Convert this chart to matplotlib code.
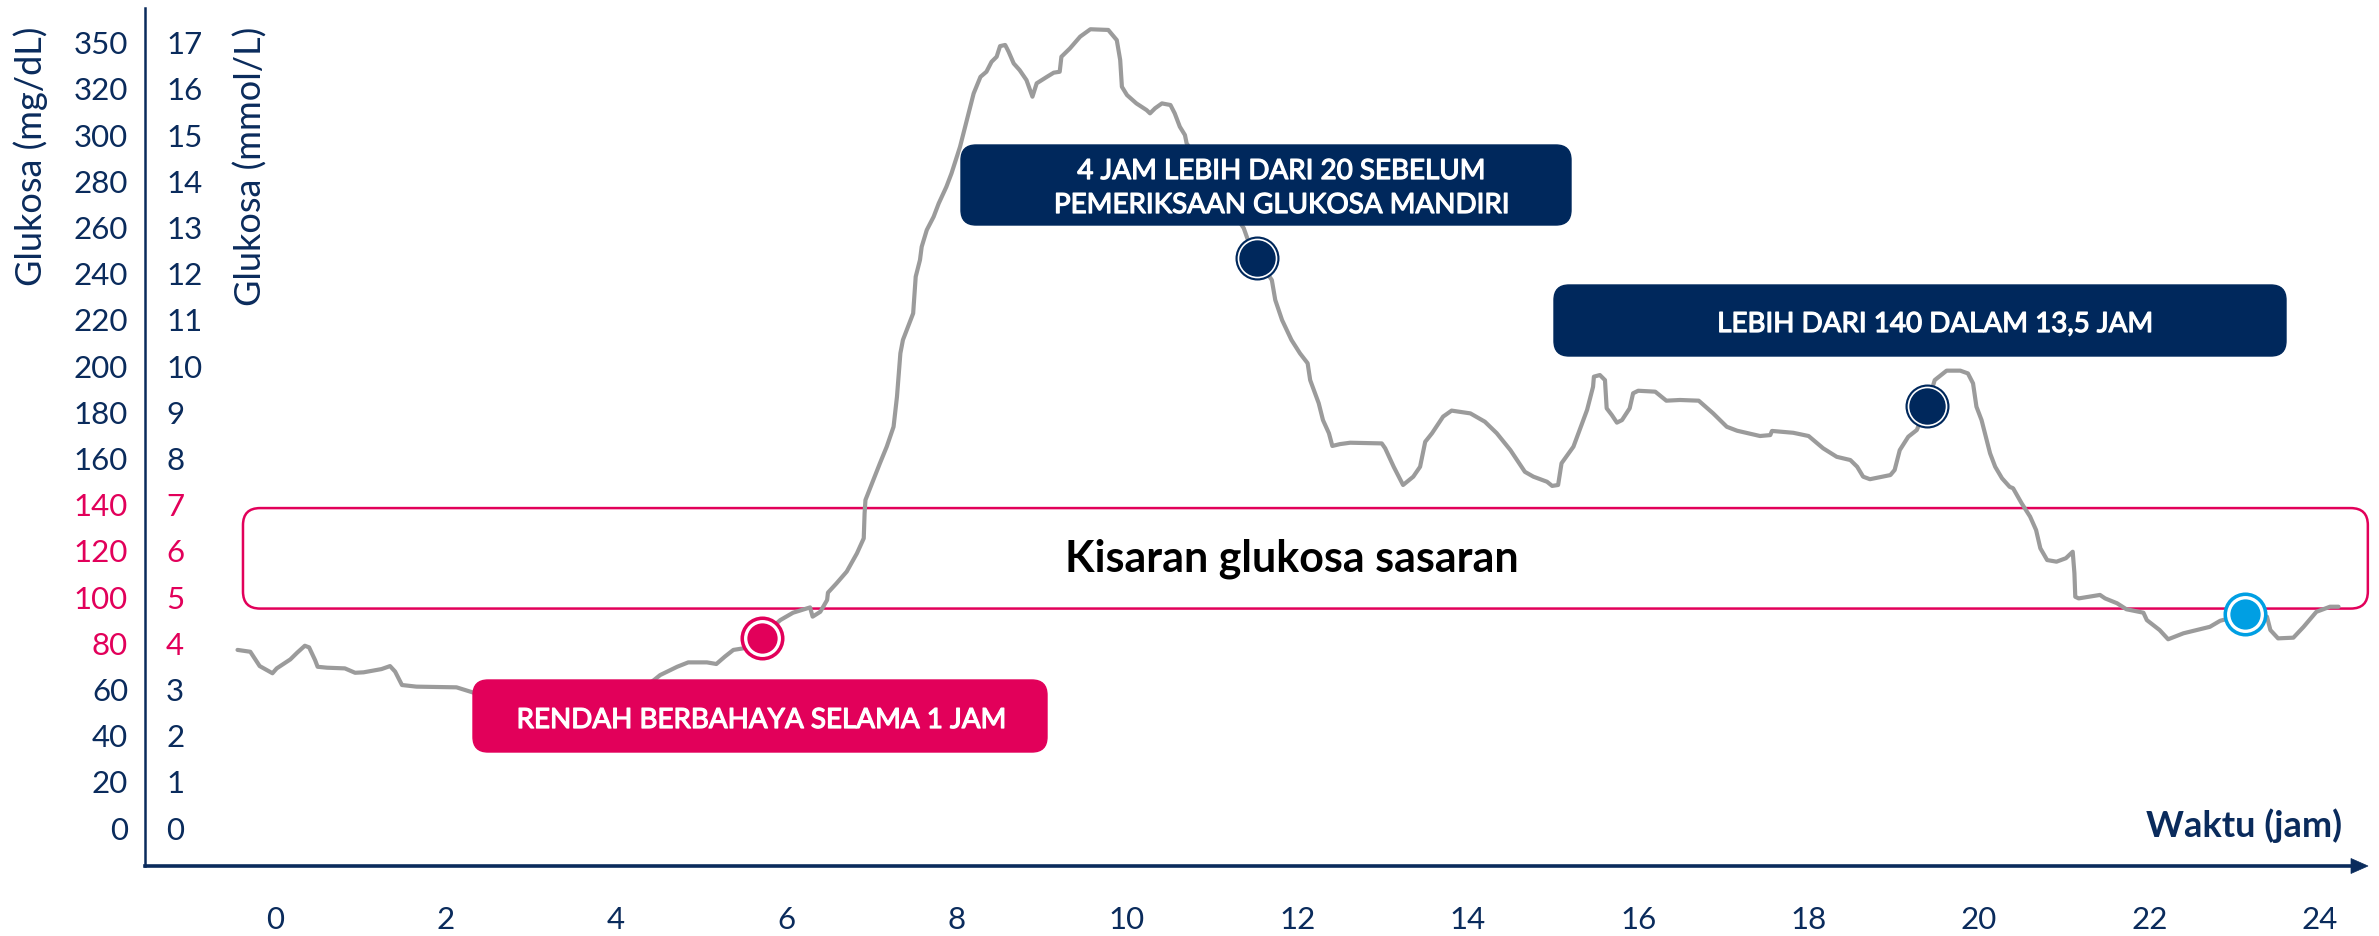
import matplotlib
matplotlib.use('Agg')
import matplotlib.pyplot as plt
import matplotlib.transforms as mtransforms
import matplotlib.patheffects as pe
from matplotlib.patches import FancyBboxPatch, Polygon

plt.rcParams['font.family'] = ['Lato', 'DejaVu Sans']

NAVY = '#0A2B5C'
BOX_NAVY = '#00285C'
PINK = '#E2005A'
BLUE = '#009FE3'
GREY = '#9B9B9B'

# ---- data (hours, glucose in chart units of mg/dL) ----
hours = [-0.44, -0.29, -0.24, -0.18, -0.03, 0.02, 0.18, 0.26, 0.35, 0.40, 0.47, 0.50, 0.61, 0.82,
         0.94, 1.04, 1.25, 1.35, 1.41, 1.49, 1.66, 2.13, 2.33, 2.88, 3.58, 4.05, 4.45, 4.52, 4.72,
         4.85, 5.07, 5.18, 5.28, 5.38, 5.50, 5.71, 5.93, 6.08, 6.28, 6.31, 6.40, 6.48, 6.49, 6.59,
         6.71, 6.83, 6.91, 6.92, 6.93, 7.10, 7.18, 7.26, 7.30, 7.34, 7.37, 7.49, 7.52, 7.57, 7.59,
         7.65, 7.73, 7.79, 7.88, 7.94, 8.04, 8.08, 8.12, 8.20, 8.28, 8.35, 8.41, 8.47, 8.51, 8.57,
         8.61, 8.67, 8.74, 8.82, 8.89, 8.94, 9.06, 9.14, 9.21, 9.23, 9.33, 9.45, 9.57, 9.78, 9.88,
         9.92, 9.94, 10.00, 10.11, 10.23, 10.27, 10.33, 10.41, 10.51, 10.56, 10.62, 10.68, 10.70,
         11.03, 11.37, 11.44, 11.53, 11.70, 11.74, 11.82, 11.93, 12.03, 12.12, 12.15, 12.25, 12.30,
         12.37, 12.41, 12.50, 12.62, 12.99, 13.03, 13.13, 13.18, 13.24, 13.36, 13.44, 13.50, 13.58,
         13.71, 13.81, 14.03, 14.20, 14.34, 14.50, 14.67, 14.77, 14.93, 14.99, 15.06, 15.10, 15.24,
         15.40, 15.47, 15.48, 15.55, 15.61, 15.63, 15.69, 15.75, 15.81, 15.90, 15.94, 16.00, 16.20,
         16.33, 16.49, 16.71, 16.88, 17.04, 17.16, 17.43, 17.55, 17.57, 17.82, 18.00, 18.17, 18.33,
         18.49, 18.57, 18.64, 18.72, 18.96, 19.01, 19.07, 19.17, 19.27, 19.39, 19.48, 19.62, 19.78,
         19.87, 19.93, 19.97, 20.03, 20.09, 20.13, 20.19, 20.27, 20.36, 20.40, 20.50, 20.60, 20.67,
         20.72, 20.80, 20.91, 21.02, 21.10, 21.12, 21.13, 21.17, 21.42, 21.48, 21.62, 21.73, 21.93,
         21.97, 22.12, 22.22, 22.40, 22.71, 22.83, 23.12, 23.38, 23.42, 23.51, 23.69, 23.81, 23.96,
         24.12, 24.22]
glucose = [77.1, 76.3, 73.5, 70.1, 67.0, 69.1, 73.0, 75.9, 78.9, 78.2, 72.7, 69.8, 69.4, 69.1,
           67.2, 67.4, 68.8, 70.1, 67.7, 61.9, 61.2, 60.9, 58.6, 53.2, 48.9, 53.2, 64.1, 66.2, 69.8,
           71.7, 71.7, 71.0, 74.2, 77.1, 77.8, 82.7, 90.0, 93.2, 95.5, 91.5, 93.6, 98.7, 101.9, 105.9,
           111.0, 118.9, 125.4, 136.2, 142.0, 157.9, 165.1, 173.7, 186.7, 205.5, 211.3, 222.8, 238.7,
           245.9, 251.6, 258.9, 264.6, 270.4, 277.6, 283.4, 294.9, 300.7, 306.5, 318.0, 325.2, 327.4,
           331.7, 333.9, 338.5, 339.0, 336.1, 331.0, 328.1, 323.8, 316.6, 322.4, 325.2, 327.0, 327.4,
           333.9, 337.5, 342.6, 345.8, 345.5, 341.1, 332.5, 320.9, 317.3, 313.7, 310.8, 309.4, 311.6,
           313.7, 313.0, 309.4, 303.6, 300.0, 296.4, 278.4, 259.7, 252.4, 246.6, 237.2, 228.6, 219.9,
           211.3, 205.5, 201.2, 193.9, 183.9, 176.6, 170.9, 165.4, 166.2, 166.8, 166.5, 164.4, 156.4,
           152.8, 148.5, 152.1, 156.4, 167.2, 170.9, 178.1, 180.7, 179.5, 175.9, 170.9, 163.6, 154.2,
           152.1, 149.9, 148.1, 148.5, 157.9, 165.1, 181.0, 191.0, 195.4, 196.1, 193.9, 181.7, 178.8,
           175.5, 176.6, 181.7, 188.2, 189.3, 188.9, 185.0, 185.3, 185.0, 179.5, 173.7, 172.0, 169.7,
           170.1, 171.9, 171.1, 169.7, 164.4, 160.7, 159.3, 156.4, 152.1, 151.0, 152.8, 155.0, 163.6,
           169.4, 172.3, 182.8, 193.9, 198.0, 198.0, 196.8, 192.5, 182.4, 176.6, 168.0, 162.2, 156.4,
           151.4, 147.7, 147.1, 140.6, 134.8, 129.0, 121.1, 116.0, 115.3, 116.8, 119.6, 110.3, 100.1,
           99.4, 100.9, 99.4, 97.3, 94.7, 93.2, 90.0, 85.7, 81.7, 84.3, 87.1, 89.7, 92.6, 91.5, 85.7,
           82.1, 82.4, 87.1, 93.6, 95.8, 95.8]

marker_hours = [5.71, 11.53, 19.39, 23.12]
marker_values = [82.4, 246.6, 182.8, 92.6]
marker_colors = [PINK, BOX_NAVY, BOX_NAVY, BLUE]
marker_style = ['thick', 'thin', 'thin', 'thick']

level_pos = [i * 20 for i in range(18)]
mgdl_labels = ['0', '20', '40', '60', '80', '100', '120', '140', '160', '180', '200', '220',
               '240', '260', '280', '300', '320', '350']
mmol_labels = [str(i) for i in range(18)]
pink_levels = {4, 5, 6, 7}
x_ticks = list(range(0, 25, 2))

target_low, target_high = 95.0, 138.5

W, H = 2379, 936
fig = plt.figure(figsize=(W / 100, H / 100), dpi=100)

# main axes placed in pixel layout
L, R, T, B = 145, 2352, 8, 866
ax = fig.add_axes([L / W, 1 - B / H, (R - L) / W, (B - T) / H])
ax.set_xlim(-1.526, 24.378)
ax.set_ylim(-16.45, 355.0)
for s in ['top', 'right']:
    ax.spines[s].set_visible(False)
ax.spines['left'].set_color(NAVY)
ax.spines['left'].set_linewidth(1.8)
ax.spines['bottom'].set_color(NAVY)
ax.spines['bottom'].set_linewidth(2.6)
ax.set_facecolor('none')

ax.set_yticks(level_pos)
ax.set_yticklabels(mgdl_labels)
ax.tick_params(axis='y', length=0, pad=12.2, labelsize=22.5, labelcolor=NAVY)
for i, lab in enumerate(ax.get_yticklabels()):
    if i in pink_levels:
        lab.set_color(PINK)

ytrans = mtransforms.blended_transform_factory(mtransforms.IdentityTransform(), ax.transData)
for i, (p, t) in enumerate(zip(level_pos, mmol_labels)):
    ax.text(166, p, t, transform=ytrans, fontsize=22.5, ha='left', va='center_baseline',
            color=PINK if i in pink_levels else NAVY, clip_on=False)

ax.set_xticks(x_ticks)
ax.set_xticklabels([str(x) for x in x_ticks])
ax.tick_params(axis='x', length=0, pad=28.5, labelsize=22.5, labelcolor=NAVY)

# target range box
tb = FancyBboxPatch((-0.376, target_low), 24.94, target_high - target_low,
                    boxstyle='round,pad=0,rounding_size=0.2', mutation_aspect=85.2 / 2.31,
                    facecolor='none', edgecolor=PINK, linewidth=1.8, zorder=1, clip_on=False)
ax.add_patch(tb)
ax.text(11.93, (target_low + target_high) / 2, 'Kisaran glukosa sasaran', fontsize=31,
        fontweight='bold', color='black', ha='center', va='center', zorder=2)

# glucose curve
ax.plot(hours, glucose, color=GREY, linewidth=3.0, solid_joinstyle='round',
        solid_capstyle='round', zorder=3, clip_on=False)

# markers
for h, v, c, st in zip(marker_hours, marker_values, marker_colors, marker_style):
    if st == 'thick':
        sizes = [31.7, 26.6, 21.8]
    else:
        sizes = [31.7, 28.6, 26.2]
    for s, col in zip(sizes, [c, 'white', c]):
        ax.plot([h], [v], marker='o', markersize=s, color=col, markeredgewidth=0,
                linestyle='none', zorder=4, clip_on=False)

# overlay in pixel coordinates for annotations
ov = fig.add_axes([0, 0, 1, 1])
ov.set_xlim(0, W)
ov.set_ylim(H, 0)
ov.axis('off')
ov.patch.set_alpha(0)

# arrow head on x-axis
ov.add_patch(Polygon([[2351, 858.5], [2368, 866], [2351, 873.5]], closed=True,
                     facecolor=NAVY, edgecolor=NAVY, linewidth=0.5))

thick = [pe.withStroke(linewidth=0.9, foreground='white')]


def box(x0, y0, x1, y1, color, r=14):
    ov.add_patch(FancyBboxPatch((x0, y0), x1 - x0, y1 - y0,
                                boxstyle=f'round,pad=0,rounding_size={r}',
                                facecolor=color, edgecolor=color, linewidth=1))


box(473, 680, 1047, 752, PINK, 15)
ov.text(761, 728, 'RENDAH BERBAHAYA SELAMA 1 JAM', color='white', fontsize=20,
        ha='center', va='baseline', path_effects=thick)

box(961, 145, 1571, 225, BOX_NAVY, 15)
ov.text(1281, 179, '4 JAM LEBIH DARI 20 SEBELUM', color='white', fontsize=20,
        ha='center', va='baseline', path_effects=thick)
ov.text(1281, 213, 'PEMERIKSAAN GLUKOSA MANDIRI', color='white', fontsize=20,
        ha='center', va='baseline', path_effects=thick)

box(1554, 285, 2286, 356, BOX_NAVY, 15)
ov.text(1935, 332, 'LEBIH DARI 140 DALAM 13,5 JAM', color='white', fontsize=20,
        ha='center', va='baseline', path_effects=thick)

# axis titles
ov.text(31, 27, 'Glukosa (mg/dL)', rotation=90, ha='center', va='top', fontsize=26,
        color=NAVY)
ov.text(251, 27, 'Glukosa (mmol/L)', rotation=90, ha='center', va='top', fontsize=26,
        color=NAVY)
ov.text(2342, 837, 'Waktu (jam)', ha='right', va='baseline', fontsize=26, fontweight='bold',
        color=NAVY)

fig.savefig('out.png', dpi=100)
